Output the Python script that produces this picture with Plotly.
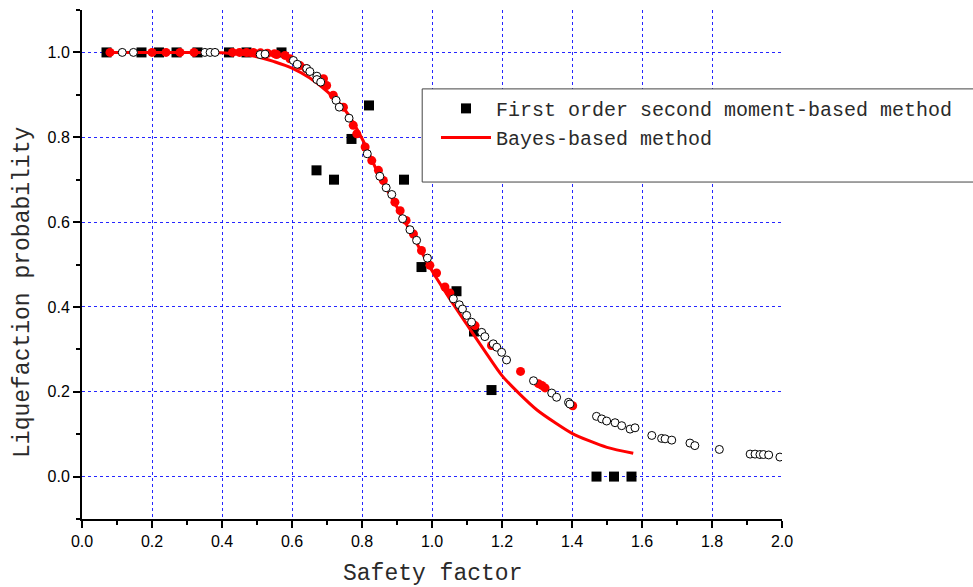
import plotly.graph_objects as go

# First order second moment-based method (black squares)
fosm_x = [0.07, 0.17, 0.22, 0.27, 0.33, 0.42, 0.47, 0.57, 0.67, 0.72, 0.77, 0.82,
          0.92, 0.97, 1.07, 1.12, 1.17, 1.47, 1.52, 1.57]
fosm_y = [1.0, 1.0, 1.0, 1.0, 1.0, 1.0, 1.0, 1.0, 0.722, 0.700, 0.796, 0.875,
          0.700, 0.494, 0.437, 0.342, 0.204, 0.0, 0.0, 0.0]

# Bayes-based method (red curve)
bayes_x = [0.07, 0.20, 0.30, 0.40, 0.50, 0.55, 0.60, 0.65, 0.70, 0.75, 0.80, 0.85,
           0.90, 0.95, 1.00, 1.05, 1.10, 1.15, 1.20, 1.25, 1.30, 1.35, 1.40, 1.45,
           1.50, 1.575]
bayes_y = [1.000, 1.000, 1.000, 0.999, 0.990, 0.978, 0.963, 0.940, 0.908, 0.866,
           0.797, 0.708, 0.635, 0.560, 0.485, 0.420, 0.358, 0.297, 0.238, 0.195,
           0.157, 0.128, 0.102, 0.084, 0.069, 0.055]

# Red filled dots
red_x = [0.08, 0.20, 0.24, 0.28, 0.32, 0.43, 0.45, 0.47, 0.49, 0.51, 0.53, 0.55,
         0.556, 0.58, 0.594, 0.623, 0.64, 0.69, 0.699, 0.718, 0.747, 0.775, 0.785,
         0.809, 0.828, 0.847, 0.861, 0.894, 0.909, 0.926, 0.947, 0.970, 0.994,
         1.013, 1.037, 1.051, 1.123, 1.170, 1.253, 1.304, 1.314, 1.323, 1.402]
red_y = [1.0, 1.0, 1.0, 1.0, 1.0, 1.0, 1.0, 1.0, 1.0, 0.999, 0.998, 0.997,
         0.995, 0.993, 0.985, 0.969, 0.962, 0.938, 0.922, 0.899, 0.871, 0.828, 0.808,
         0.777, 0.745, 0.722, 0.698, 0.647, 0.627, 0.604, 0.572, 0.533, 0.498,
         0.480, 0.447, 0.433, 0.356, 0.309, 0.248, 0.219, 0.215, 0.209, 0.167]

# Open circles
open_x = [0.115, 0.147, 0.351, 0.366, 0.380, 0.509, 0.523, 0.604, 0.615, 0.642,
          0.651, 0.671, 0.671, 0.682, 0.726, 0.735, 0.763, 0.815, 0.851, 0.869,
          0.885, 0.916, 0.937, 0.956, 0.987, 1.061, 1.078, 1.087, 1.099, 1.113,
          1.142, 1.151, 1.175, 1.185, 1.199, 1.213, 1.290, 1.342, 1.356, 1.390,
          1.394, 1.470, 1.485, 1.499, 1.523, 1.542, 1.566, 1.580, 1.628, 1.656,
          1.666, 1.685, 1.737, 1.751, 1.821, 1.909, 1.923, 1.937, 1.947, 1.962, 1.994]
open_y = [1.0, 1.0, 1.0, 1.0, 1.0, 0.995, 0.996, 0.981, 0.972, 0.962,
          0.955, 0.944, 0.936, 0.930, 0.887, 0.871, 0.845, 0.761, 0.708, 0.681,
          0.665, 0.608, 0.582, 0.557, 0.515, 0.419, 0.405, 0.395, 0.380, 0.364,
          0.340, 0.330, 0.313, 0.305, 0.293, 0.275, 0.226, 0.197, 0.187, 0.175,
          0.171, 0.142, 0.136, 0.131, 0.127, 0.120, 0.112, 0.115, 0.097, 0.090,
          0.089, 0.086, 0.079, 0.073, 0.064, 0.053, 0.053, 0.052, 0.052, 0.051, 0.046]

x_ticks = [0.0, 0.2, 0.4, 0.6, 0.8, 1.0, 1.2, 1.4, 1.6, 1.8, 2.0]
y_ticks = [0.0, 0.2, 0.4, 0.6, 0.8, 1.0]

MONO = "Liberation Mono, DejaVu Sans Mono, monospace"
SANS = "Liberation Sans, Arial, sans-serif"
TXT = "#2a2a2a"

fig = go.Figure()
fig.add_trace(go.Scatter(
    x=fosm_x, y=fosm_y, mode="markers", name="First order second moment-based method",
    marker=dict(symbol="square", size=10, color="black")))
fig.add_trace(go.Scatter(
    x=bayes_x, y=bayes_y, mode="lines", name="Bayes-based method",
    line=dict(color="#ff0000", width=3, shape="spline", smoothing=0.8)))
fig.add_trace(go.Scatter(
    x=red_x, y=red_y, mode="markers", showlegend=False,
    marker=dict(symbol="circle", size=9, color="#ff0000", line=dict(width=0))))
fig.add_trace(go.Scatter(
    x=open_x, y=open_y, mode="markers", showlegend=False,
    marker=dict(symbol="circle", size=8, color="white", line=dict(color="black", width=1))))

fig.update_layout(
    width=973, height=587,
    margin=dict(l=82, r=191, t=10, b=68),
    paper_bgcolor="white", plot_bgcolor="white",
    showlegend=True,
    legend=dict(x=0.5057, y=0.845, xanchor="left", yanchor="top",
                bgcolor="rgba(0,0,0,0)", borderwidth=0,
                font=dict(family=MONO, size=20, color=TXT),
                itemwidth=50, tracegroupgap=0),
    font=dict(family=SANS, color="black"),
    shapes=[dict(type="rect", xref="paper", yref="paper",
                 x0=0.486, x1=1.40, y0=0.662, y1=0.845,
                 fillcolor="white", line=dict(color="#444444", width=1),
                 layer="above")],
    annotations=[
        dict(text="Safety factor", xref="paper", yref="paper", x=0.5, y=-0.108,
             xanchor="center", yanchor="middle", showarrow=False,
             font=dict(family=MONO, size=23, color=TXT)),
        dict(text="Liquefaction probability", xref="paper", yref="paper",
             x=-0.0843, y=0.446, xanchor="center", yanchor="middle",
             textangle=-90, showarrow=False,
             font=dict(family=MONO, size=23, color=TXT)),
    ],
)
fig.update_xaxes(
    range=[0, 2.0], tickmode="array", tickvals=x_ticks,
    ticktext=[f"{v:.1f}" for v in x_ticks],
    showline=True, linecolor="black", linewidth=2, mirror=False,
    ticks="outside", ticklen=7, tickwidth=2, tickcolor="black",
    minor=dict(dtick=0.1, tick0=0, ticks="outside", ticklen=4, tickwidth=2,
               tickcolor="black", showgrid=False),
    showgrid=True, gridcolor="rgba(0,0,255,0.85)", griddash="dot", gridwidth=1,
    zeroline=False,
    tickfont=dict(family=SANS, size=16, color="black"),
)
fig.update_yaxes(
    range=[-0.1, 1.1], tickmode="array", tickvals=y_ticks,
    ticktext=[f"{v:.1f}" for v in y_ticks],
    showline=True, linecolor="black", linewidth=2, mirror=False,
    ticks="outside", ticklen=7, tickwidth=2, tickcolor="black",
    minor=dict(dtick=0.1, tick0=0, ticks="outside", ticklen=4, tickwidth=2,
               tickcolor="black", showgrid=False),
    showgrid=True, gridcolor="rgba(0,0,255,0.85)", griddash="dot", gridwidth=1,
    zeroline=False,
    tickfont=dict(family=SANS, size=16, color="black"),
)

fig.write_html("out.html")
